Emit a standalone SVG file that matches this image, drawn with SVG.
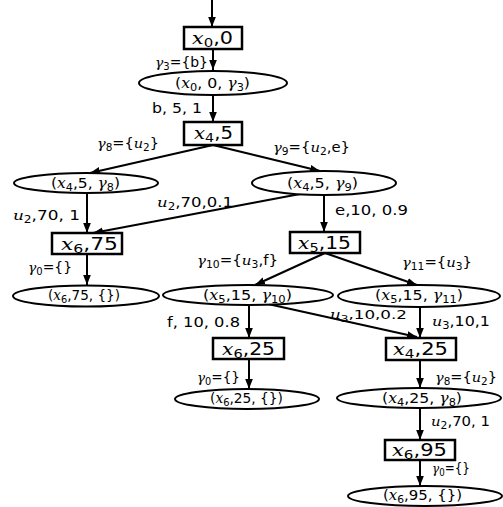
<svg xmlns="http://www.w3.org/2000/svg" width="503" height="507" viewBox="0 0 503 507">
<defs>
<marker id="ah" markerUnits="userSpaceOnUse" markerWidth="10" markerHeight="10" viewBox="0 0 10 10" refX="10" refY="5" orient="auto">
<path d="M0,1.2 L10,5 L0,8.8 Z" fill="#000"/>
</marker>
<style>
.bx{fill:#fff;stroke:#000;stroke-width:2.5}
.el{fill:#fff;stroke:#000;stroke-width:2}
.c line{stroke:#000;stroke-width:2;marker-end:url(#ah)}
text{font-family:"DejaVu Sans","Liberation Sans",sans-serif;fill:#000}
.l{font-size:13.5px}
.n{font-size:14px}
.b{font-size:17px}
.m{font-family:"DejaVu Serif","Liberation Serif",serif;font-style:italic}
.s{font-size:72%}
</style>
</defs>
<rect width="503" height="507" fill="#fff"/>
<g id="connectors" class="c">
<line x1="212" y1="0" x2="212" y2="27"/>
<line x1="213" y1="49" x2="213" y2="70"/>
<line x1="213" y1="95" x2="213" y2="122"/>
<line x1="213" y1="145" x2="90" y2="173"/>
<line x1="213" y1="145" x2="320" y2="171"/>
<line x1="87" y1="193" x2="87" y2="233"/>
<line x1="300" y1="194" x2="93" y2="233"/>
<line x1="324" y1="195" x2="324" y2="232"/>
<line x1="87" y1="254" x2="87" y2="285"/>
<line x1="325" y1="253" x2="255" y2="285"/>
<line x1="325" y1="253" x2="417" y2="285"/>
<line x1="249" y1="305" x2="249" y2="338"/>
<line x1="268" y1="304" x2="417" y2="337"/>
<line x1="420" y1="307" x2="420" y2="338"/>
<line x1="249" y1="359" x2="249" y2="389"/>
<line x1="420" y1="360" x2="420" y2="388"/>
<line x1="420" y1="408" x2="420" y2="440"/>
<line x1="420" y1="460" x2="420" y2="486"/>
</g>
<g id="edge-labels" class="l">
<text x="155" y="67" textLength="53" lengthAdjust="spacingAndGlyphs"><tspan class="m">γ</tspan><tspan class="s" dy="3">3</tspan><tspan dy="-3">={b}</tspan></text>
<text x="152" y="113" textLength="50" lengthAdjust="spacingAndGlyphs">b, 5, 1</text>
<text x="97" y="148" textLength="62" lengthAdjust="spacingAndGlyphs"><tspan class="m">γ</tspan><tspan class="s" dy="3">8</tspan><tspan dy="-3">={</tspan><tspan class="m">u</tspan><tspan class="s" dy="3">2</tspan><tspan dy="-3">}</tspan></text>
<text x="273" y="152" textLength="77" lengthAdjust="spacingAndGlyphs"><tspan class="m">γ</tspan><tspan class="s" dy="3">9</tspan><tspan dy="-3">={</tspan><tspan class="m">u</tspan><tspan class="s" dy="3">2</tspan><tspan dy="-3">,e}</tspan></text>
<text x="13" y="220" textLength="67" lengthAdjust="spacingAndGlyphs"><tspan class="m">u</tspan><tspan class="s" dy="3">2</tspan><tspan dy="-3">,70, 1</tspan></text>
<text x="157" y="207" textLength="76" lengthAdjust="spacingAndGlyphs"><tspan class="m">u</tspan><tspan class="s" dy="3">2</tspan><tspan dy="-3">,70,0.1</tspan></text>
<text x="335" y="215" textLength="73" lengthAdjust="spacingAndGlyphs">e,10, 0.9</text>
<text x="28" y="272" textLength="44" lengthAdjust="spacingAndGlyphs"><tspan class="m">γ</tspan><tspan class="s" dy="3">0</tspan><tspan dy="-3">={}</tspan></text>
<text x="197" y="265" textLength="81" lengthAdjust="spacingAndGlyphs"><tspan class="m">γ</tspan><tspan class="s" dy="3">10</tspan><tspan dy="-3">={</tspan><tspan class="m">u</tspan><tspan class="s" dy="3">3</tspan><tspan dy="-3">,f}</tspan></text>
<text x="402" y="267" textLength="70" lengthAdjust="spacingAndGlyphs"><tspan class="m">γ</tspan><tspan class="s" dy="3">11</tspan><tspan dy="-3">={</tspan><tspan class="m">u</tspan><tspan class="s" dy="3">3</tspan><tspan dy="-3">}</tspan></text>
<text x="167" y="327" textLength="73" lengthAdjust="spacingAndGlyphs">f, 10, 0.8</text>
<text x="330" y="319" font-size="13" textLength="77" lengthAdjust="spacingAndGlyphs"><tspan class="m">u</tspan><tspan class="s" dy="3">3</tspan><tspan dy="-3">,10,0.2</tspan></text>
<text x="432" y="326" textLength="58" lengthAdjust="spacingAndGlyphs"><tspan class="m">u</tspan><tspan class="s" dy="3">3</tspan><tspan dy="-3">,10,1</tspan></text>
<text x="197" y="382" textLength="43" lengthAdjust="spacingAndGlyphs"><tspan class="m">γ</tspan><tspan class="s" dy="3">0</tspan><tspan dy="-3">={}</tspan></text>
<text x="435" y="382" textLength="62" lengthAdjust="spacingAndGlyphs"><tspan class="m">γ</tspan><tspan class="s" dy="3">8</tspan><tspan dy="-3">={</tspan><tspan class="m">u</tspan><tspan class="s" dy="3">2</tspan><tspan dy="-3">}</tspan></text>
<text x="431" y="426" textLength="59" lengthAdjust="spacingAndGlyphs"><tspan class="m">u</tspan><tspan class="s" dy="3">2</tspan><tspan dy="-3">,70, 1</tspan></text>
<text x="432" y="473" textLength="38" lengthAdjust="spacingAndGlyphs"><tspan class="m">γ</tspan><tspan class="s" dy="3">0</tspan><tspan dy="-3">={}</tspan></text>
</g>
<g id="n-x0-0"><rect class="bx" x="184" y="27" width="58" height="22"/>
<text class="b" x="192" y="44" textLength="41" lengthAdjust="spacingAndGlyphs"><tspan class="m">x</tspan><tspan class="s" dy="3">0</tspan><tspan dy="-3">,0</tspan></text></g>
<g id="n-x0-0-g3"><ellipse class="el" cx="213" cy="83" rx="74" ry="12"/>
<text class="n" x="175" y="88" textLength="75" lengthAdjust="spacingAndGlyphs">(<tspan class="m">x</tspan><tspan class="s" dy="3">0</tspan><tspan dy="-3">, 0, </tspan><tspan class="m">γ</tspan><tspan class="s" dy="3">3</tspan><tspan dy="-3">)</tspan></text></g>
<g id="n-x4-5"><rect class="bx" x="184" y="122" width="58" height="23"/>
<text class="b" x="194" y="139" textLength="39" lengthAdjust="spacingAndGlyphs"><tspan class="m">x</tspan><tspan class="s" dy="3">4</tspan><tspan dy="-3">,5</tspan></text></g>
<g id="n-x4-5-g8"><ellipse class="el" cx="86" cy="183" rx="72" ry="10"/>
<text class="n" x="51" y="188" textLength="69" lengthAdjust="spacingAndGlyphs">(<tspan class="m">x</tspan><tspan class="s" dy="3">4</tspan><tspan dy="-3">,5, </tspan><tspan class="m">γ</tspan><tspan class="s" dy="3">8</tspan><tspan dy="-3">)</tspan></text></g>
<g id="n-x4-5-g9"><ellipse class="el" cx="324" cy="183" rx="72" ry="12"/>
<text class="n" x="287" y="188" textLength="71" lengthAdjust="spacingAndGlyphs">(<tspan class="m">x</tspan><tspan class="s" dy="3">4</tspan><tspan dy="-3">,5, </tspan><tspan class="m">γ</tspan><tspan class="s" dy="3">9</tspan><tspan dy="-3">)</tspan></text></g>
<g id="n-x6-75"><rect class="bx" x="52" y="233" width="70" height="21"/>
<text class="b" x="61" y="250" textLength="57" lengthAdjust="spacingAndGlyphs"><tspan class="m">x</tspan><tspan class="s" dy="3">6</tspan><tspan dy="-3">,75</tspan></text></g>
<g id="n-x5-15"><rect class="bx" x="290" y="232" width="70" height="21"/>
<text class="b" x="298" y="249" textLength="53" lengthAdjust="spacingAndGlyphs"><tspan class="m">x</tspan><tspan class="s" dy="3">5</tspan><tspan dy="-3">,15</tspan></text></g>
<g id="n-x6-75-e"><ellipse class="el" cx="86" cy="296" rx="73" ry="10.5"/>
<text class="n" x="48" y="300" textLength="72" lengthAdjust="spacingAndGlyphs">(<tspan class="m">x</tspan><tspan class="s" dy="3">6</tspan><tspan dy="-3">,75, {})</tspan></text></g>
<g id="n-x5-15-g10"><ellipse class="el" cx="248" cy="295" rx="85" ry="10"/>
<text class="n" x="203" y="300" textLength="89" lengthAdjust="spacingAndGlyphs">(<tspan class="m">x</tspan><tspan class="s" dy="3">5</tspan><tspan dy="-3">,15, </tspan><tspan class="m">γ</tspan><tspan class="s" dy="3">10</tspan><tspan dy="-3">)</tspan></text></g>
<g id="n-x5-15-g11"><ellipse class="el" cx="419" cy="296" rx="81" ry="11"/>
<text class="n" x="375" y="300" textLength="88" lengthAdjust="spacingAndGlyphs">(<tspan class="m">x</tspan><tspan class="s" dy="3">5</tspan><tspan dy="-3">,15, </tspan><tspan class="m">γ</tspan><tspan class="s" dy="3">11</tspan><tspan dy="-3">)</tspan></text></g>
<g id="n-x6-25"><rect class="bx" x="213" y="338" width="71" height="21"/>
<text class="b" x="222" y="355" textLength="53" lengthAdjust="spacingAndGlyphs"><tspan class="m">x</tspan><tspan class="s" dy="3">6</tspan><tspan dy="-3">,25</tspan></text></g>
<g id="n-x4-25"><rect class="bx" x="386" y="338" width="70" height="22"/>
<text class="b" x="393" y="355" textLength="55" lengthAdjust="spacingAndGlyphs"><tspan class="m">x</tspan><tspan class="s" dy="3">4</tspan><tspan dy="-3">,25</tspan></text></g>
<g id="n-x6-25-e"><ellipse class="el" cx="247" cy="399" rx="72" ry="10"/>
<text class="n" x="210" y="403" textLength="73" lengthAdjust="spacingAndGlyphs">(<tspan class="m">x</tspan><tspan class="s" dy="3">6</tspan><tspan dy="-3">,25, {})</tspan></text></g>
<g id="n-x4-25-g8"><ellipse class="el" cx="419" cy="398" rx="82" ry="10"/>
<text class="n" x="382" y="403" textLength="80" lengthAdjust="spacingAndGlyphs">(<tspan class="m">x</tspan><tspan class="s" dy="3">4</tspan><tspan dy="-3">,25, </tspan><tspan class="m">γ</tspan><tspan class="s" dy="3">8</tspan><tspan dy="-3">)</tspan></text></g>
<g id="n-x6-95"><rect class="bx" x="385" y="440" width="70" height="20"/>
<text class="b" x="392" y="456" textLength="55" lengthAdjust="spacingAndGlyphs"><tspan class="m">x</tspan><tspan class="s" dy="3">6</tspan><tspan dy="-3">,95</tspan></text></g>
<g id="n-x6-95-e"><ellipse class="el" cx="425" cy="496" rx="77" ry="10"/>
<text class="n" x="383" y="500" textLength="79" lengthAdjust="spacingAndGlyphs">(<tspan class="m">x</tspan><tspan class="s" dy="3">6</tspan><tspan dy="-3">,95, {})</tspan></text></g>
</svg>
